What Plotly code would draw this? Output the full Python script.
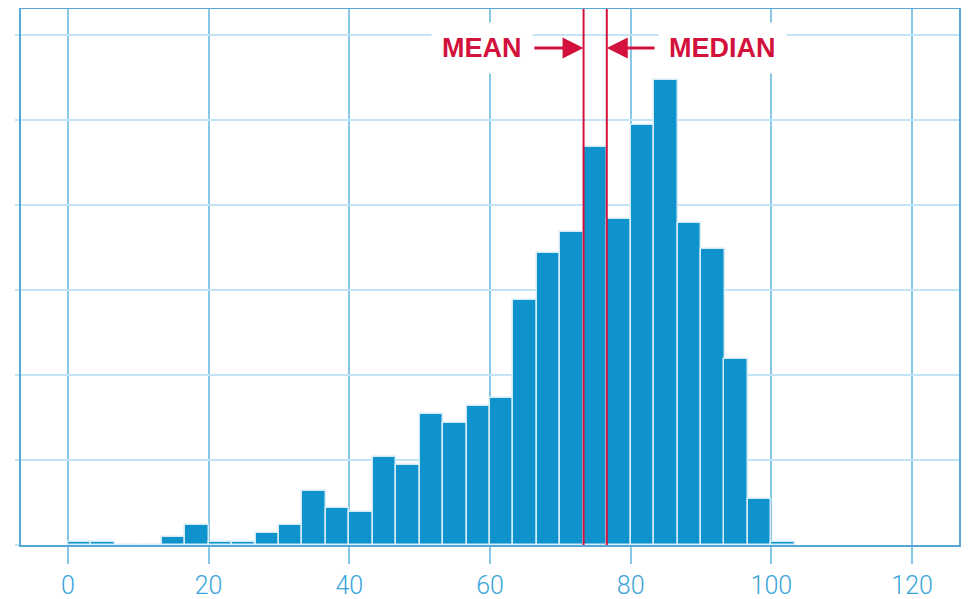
import plotly.graph_objects as go

# ---- data -------------------------------------------------------------
bin_left = [0.00, 3.33, 6.67, 10.00, 13.33, 16.67, 20.00, 23.33, 26.67, 30.00,
            33.33, 36.67, 40.00, 43.33, 46.67, 50.00, 53.33, 56.67, 60.00, 63.33,
            66.67, 70.00, 73.33, 76.67, 80.00, 83.33, 86.67, 90.00, 93.33, 96.67,
            100.00]
bin_width = 10 / 3
counts = [0.3, 0.3, 0.0, 0.0, 0.9, 2.35, 0.3, 0.3, 1.4, 2.35,
          6.35, 4.4, 3.9, 10.35, 9.4, 15.4, 14.4, 16.35, 17.3, 28.9,
          34.4, 36.9, 46.9, 38.4, 49.4, 54.8, 37.9, 34.9, 21.85, 5.4,
          0.3]
mean_value = 73.3
median_value = 76.6
x_ticks = [0, 20, 40, 60, 80, 100, 120]
y_ticks = [0, 10, 20, 30, 40, 50, 60]

# ---- styles -----------------------------------------------------------
BAR = "#0f93cc"
RED = "#d2123c"
VGRID = "#86c8e6"
HGRID = "#c2e4f4"
BORDER = "#55a8d3"
TICKTXT = "#3aa5da"

centers = [b + bin_width / 2 for b in bin_left]

fig = go.Figure()
fig.add_trace(go.Bar(
    x=centers, y=counts, width=bin_width,
    marker=dict(color=BAR, line=dict(color="#d4ecf8", width=1.5)),
    hoverinfo="skip", showlegend=False,
))

# mean / median lines
for v in (mean_value, median_value):
    fig.add_shape(type="line", xref="x", yref="paper", x0=v, x1=v, y0=0, y1=1,
                  line=dict(color=RED, width=2), layer="above")

y_lab = 58.5
lab_font = dict(family="Liberation Sans, Arial", size=27, color=RED)
fig.add_annotation(x=mean_value - 14.5, y=y_lab, xref="x", yref="y", text="<b>MEAN</b>",
                   showarrow=False, font=lab_font,
                   bgcolor="white", borderpad=10, xanchor="center", yanchor="middle")
fig.add_annotation(x=median_value + 16.4, y=y_lab, xref="x", yref="y", text="<b>MEDIAN</b>",
                   showarrow=False, font=lab_font,
                   bgcolor="white", borderpad=10, xanchor="center", yanchor="middle")
# arrows
fig.add_annotation(x=mean_value, y=y_lab, ax=mean_value - 7.2, ay=y_lab,
                   xref="x", yref="y", axref="x", ayref="y", text="",
                   showarrow=True, arrowhead=2, arrowsize=1.4, arrowwidth=3, arrowcolor=RED)
fig.add_annotation(x=median_value, y=y_lab, ax=median_value + 7.0, ay=y_lab,
                   xref="x", yref="y", axref="x", ayref="y", text="",
                   showarrow=True, arrowhead=2, arrowsize=1.4, arrowwidth=3, arrowcolor=RED)

fig.update_layout(
    width=963, height=591,
    margin=dict(l=13, r=12, t=1, b=54, autoexpand=False),
    paper_bgcolor="white", plot_bgcolor="white",
    bargap=0,
)
fig.update_xaxes(
    range=[-6.667, 126.667], tickvals=x_ticks,
    showgrid=True, gridcolor=VGRID, gridwidth=1.5,
    zeroline=False,
    showline=True, linecolor=BORDER, linewidth=2, mirror=True,
    ticks="outside", ticklen=17, tickcolor=VGRID, tickwidth=1.5,
    tickfont=dict(family="Roboto", size=25, color=TICKTXT, weight=300),
    ticklabelstandoff=0,
    automargin=False,
)
fig.update_yaxes(
    range=[0, 63.1], tickvals=y_ticks,
    showgrid=True, gridcolor=HGRID, gridwidth=2,
    zeroline=False,
    showline=True, linecolor=BORDER, linewidth=2, mirror=True,
    ticks="outside", ticklen=4, tickcolor=HGRID, tickwidth=2,
    showticklabels=False, automargin=False,
)

fig.write_html("out.html")
